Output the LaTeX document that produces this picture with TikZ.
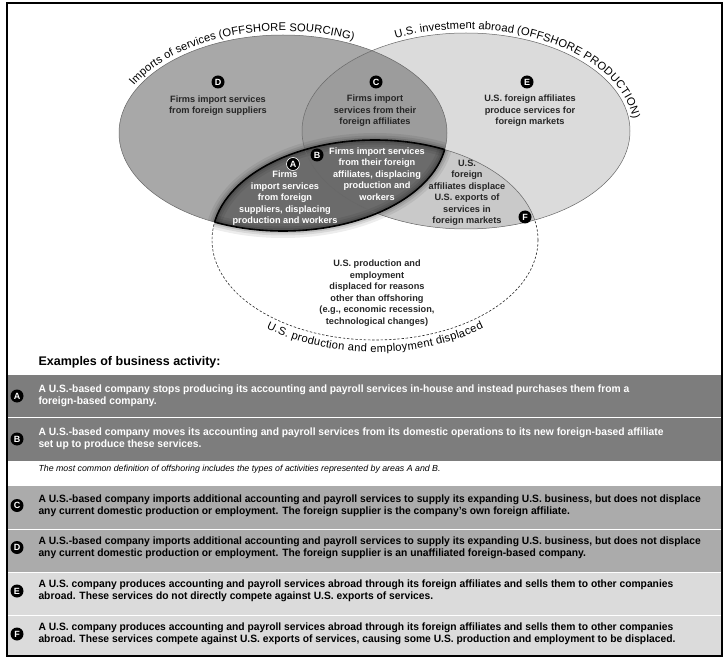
\documentclass[tikz,border=0pt]{standalone}
\usepackage{fontspec}
\setmainfont{Liberation Sans}
\newfontfamily\narrowsans[FakeStretch=0.97]{Liberation Sans}
\usetikzlibrary{positioning,decorations.text}

\definecolor{areaD}{gray}{0.66}
\definecolor{areaC}{gray}{0.61}
\definecolor{areaE}{gray}{0.86}
\definecolor{areaF}{gray}{0.79}
\definecolor{areaAB}{gray}{0.42}
\definecolor{rowdark}{gray}{0.49}
\definecolor{rowmid}{gray}{0.67}
\definecolor{rowlight}{gray}{0.86}
\definecolor{ink}{gray}{0.15}

\newcommand{\curvefont}{\fontsize{11.2}{13}\selectfont}
\newcommand{\importsarea}{(Lc) ellipse [x radius=164, y radius=98]}
\newcommand{\investarea}{(Rc) ellipse [x radius=164, y radius=98]}
\newcommand{\displacedarea}{(Bc) ellipse [x radius=163, y radius=100]}

\begin{document}
\begin{tikzpicture}[x=1pt, y=1pt,
  badge/.style={circle, fill=black, text=white, inner sep=0pt, minimum size=13pt,
    font=\bfseries\fontsize{9}{9}\selectfont},
  area/.style={align=center, text=ink, font=\bfseries\fontsize{9.2}{11.5}\selectfont},
  rowbox/.style={minimum width=715pt, inner sep=0pt, draw=white, line width=0.8pt},
  rowtext/.style={anchor=west, align=left, font=\narrowsans\bfseries\fontsize{10.6}{12.4}\selectfont},
  curved/.style={decorate, decoration={text along path, text align=left, raise=4pt, text={#1}}}]
  \useasboundingbox (0,0) rectangle (728,-660);
  \coordinate (Lc) at (283,-133);
  \coordinate (Rc) at (466,-131);
  \coordinate (Bc) at (375,-240);

  % dashed outline first, the areas hide its inner part
  \draw[ink, line width=0.6pt, dash pattern=on 2.4pt off 1.8pt] \displacedarea;

  % areas
  \fill[areaD] \importsarea;
  \fill[areaE] \investarea;
  \begin{scope} \clip \importsarea; \fill[areaC] \investarea; \end{scope}
  \begin{scope} \clip \investarea; \fill[areaF] \displacedarea; \end{scope}
  \begin{scope} \clip \importsarea; \fill[areaAB] \displacedarea; \end{scope}

  % soft shadow round A and B
  \foreach \w/\o in {14/0.07, 9/0.09, 5/0.12} {
    \begin{scope} \clip \displacedarea; \draw[black, line width=\w pt, opacity=\o] \importsarea; \end{scope}
    \begin{scope} \clip \importsarea; \draw[black, line width=\w pt, opacity=\o] \displacedarea; \end{scope}
  }

  % outlines
  \draw[ink!70, line width=0.5pt] \importsarea;
  \draw[ink!70, line width=0.5pt] \investarea;
  \begin{scope} \clip \investarea; \draw[ink!70, line width=0.5pt] \displacedarea; \end{scope}
  \begin{scope} \clip \displacedarea; \draw[black, line width=1.6pt] \importsarea; \end{scope}
  \begin{scope} \clip \importsarea; \draw[black, line width=1.6pt] \displacedarea; \end{scope}

  % captions along the ellipses
  \path[curved={|\curvefont|Imports of services (OFFSHORE SOURCING)}]
    (Lc) ++(153:164 and 98) arc[start angle=153, end angle=20, x radius=164, y radius=98];
  \path[curved={|\curvefont|U.S. investment abroad (OFFSHORE PRODUCTION)}]
    (Rc) ++(115:164 and 98) arc[start angle=115, end angle=-40, x radius=164, y radius=98];
  \path[decorate, decoration={text along path, text align=center, raise=-12pt,
      text={|\curvefont|U.S. production and employment displaced}}]
    (Bc) ++(200:163 and 100) arc[start angle=200, end angle=340, x radius=163, y radius=100];

  % area labels
  \node[badge] (bD) at (218,-82) {D};
  \node[area] (tD) at (218,-105.5) {Firms import services\\from foreign suppliers};
  \node[badge] (bC) at (376,-82) {C};
  \node[area] (tC) at (375,-111) {Firms import\\services from their\\foreign affiliates};
  \node[badge] (bE) at (527,-82) {E};
  \node[area] (tE) at (530,-111) {U.S. foreign affiliates\\produce services for\\foreign markets};
  \node[badge, draw=white, line width=0.6pt] (bA) at (293,-164) {A};
  \node[area, text=white] (tA) at (285,-198.5)
    {Firms\\import services\\from foreign\\suppliers, displacing\\production and workers};
  \node[badge] (bB) at (317,-155) {B};
  \node[area, text=white] (tB) at (377,-174)
    {Firms import services\\from their foreign\\affiliates, displacing\\production and\\workers};
  \node[area] (tF) at (467,-193)
    {U.S.\\foreign\\affiliates displace\\U.S. exports of\\services in\\foreign markets};
  \node[badge] (bF) at (525,-217) {F};
  \node[area] (tG) at (377,-293)
    {U.S. production and\\employment\\displaced for reasons\\other than offshoring\\(e.g., economic recession,\\technological changes)};

  % examples
  \node[anchor=west, font=\bfseries\fontsize{12.5}{14}\selectfont] (tEx) at (35,-362)
    {Examples of business activity:};
  \foreach \r/\y/\h/\ty/\fillc/\txtc/\txt in {
    A/395.5/43/396/rowdark/white/{A U.S.-based company stops producing its accounting and payroll services in-house and instead purchases them from a\\foreign-based company.},
    B/439/44/439/rowdark/white/{A U.S.-based company moves its accounting and payroll services from its domestic operations to its new foreign-based affiliate\\set up to produce these services.},
    C/507/44/505.5/rowmid/black/{A U.S.-based company imports additional accounting and payroll services to supply its expanding U.S. business, but does not displace\\any current domestic production or employment. The foreign supplier is the company’s own foreign affiliate.},
    D/550.5/43/547.5/rowmid/black/{A U.S.-based company imports additional accounting and payroll services to supply its expanding U.S. business, but does not displace\\any current domestic production or employment. The foreign supplier is an unaffiliated foreign-based company.},
    E/593.5/43/591/rowlight/black/{A U.S. company produces accounting and payroll services abroad through its foreign affiliates and sells them to other companies\\abroad. These services do not directly compete against U.S. exports of services.},
    F/635.5/41/634/rowlight/black/{A U.S. company produces accounting and payroll services abroad through its foreign affiliates and sells them to other companies\\abroad. These services compete against U.S. exports of services, causing some U.S. production and employment to be displaced.}} {
    \node[rowbox, fill=\fillc, minimum height=\h pt] (row\r) at (364.5,-\y) {};
    \node[badge] (k\r) at (17,-\ty) {\r};
    \node[rowtext, text=\txtc] (t\r) at (35,-\ty) {\txt};
  }
  \node[anchor=west, font=\itshape\fontsize{8.8}{11}\selectfont] (tNote) at (35,-469)
    {The most common definition of offshoring includes the types of activities represented by areas A and B.};

  \draw[line width=1.1pt] (7,-3) rectangle (722,-656);
\end{tikzpicture}
\end{document}
